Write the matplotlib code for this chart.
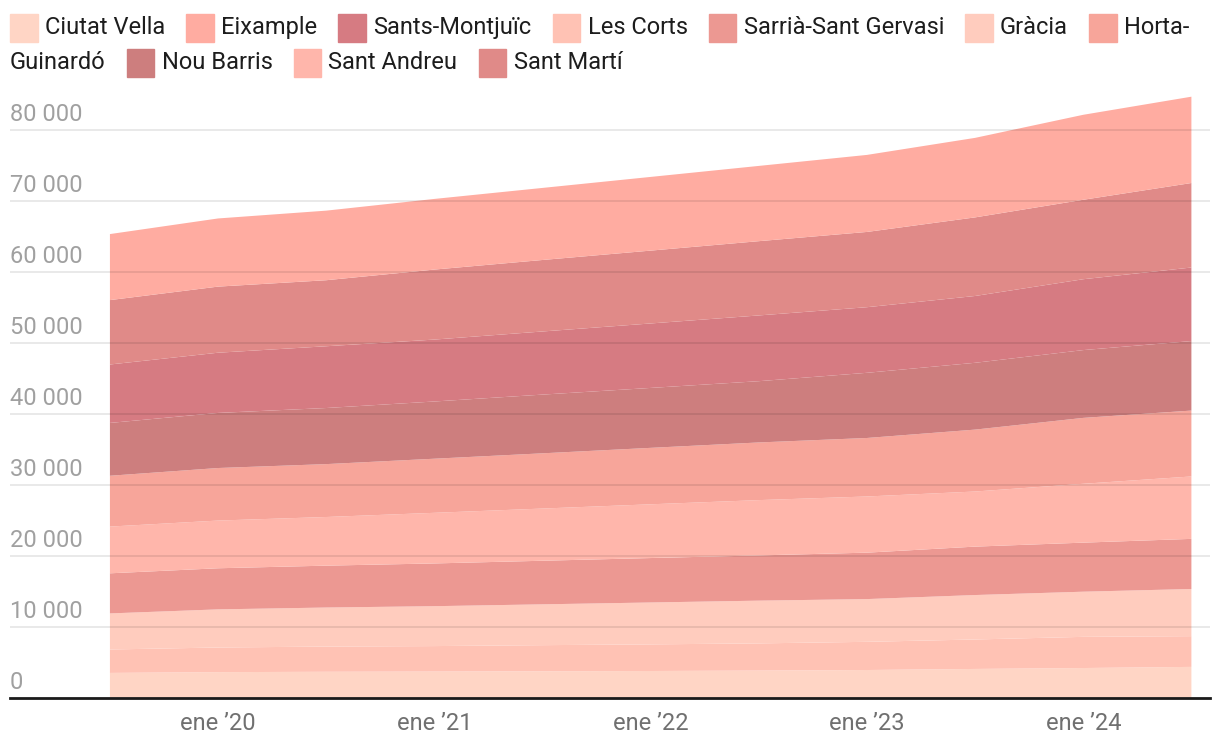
import matplotlib
matplotlib.use("Agg")
import matplotlib.pyplot as plt
import matplotlib.transforms as mtransforms
from matplotlib.patches import Rectangle

plt.rcParams["font.family"] = ["Roboto", "DejaVu Sans"]

# semiannual observations
periods = ["2019-07", "2020-01", "2020-07", "2021-01", "2021-07", "2022-01",
           "2022-07", "2023-01", "2023-07", "2024-01", "2024-07"]

# district values
ciutat_vella = [3490, 3600, 3650, 3680, 3720, 3760, 3820, 3900, 4050, 4180, 4340]
les_corts = [3300, 3470, 3550, 3590, 3680, 3750, 3830, 3970, 4150, 4390, 4330]
gracia = [5080, 5370, 5500, 5620, 5750, 5900, 6020, 6020, 6260, 6360, 6640]
sarria = [5650, 5790, 5900, 6020, 6140, 6260, 6370, 6540, 6820, 6910, 7060]
sant_andreu = [6580, 6720, 6850, 7130, 7350, 7570, 7790, 7910, 7760, 8290, 8790]
horta = [7160, 7400, 7450, 7620, 7780, 7950, 8120, 8240, 8720, 9280, 9280]
nou_barris = [7440, 7760, 7900, 8060, 8270, 8440, 8630, 9180, 9410, 9550, 9790]
sants = [8230, 8480, 8700, 8720, 8890, 9080, 9260, 9240, 9410, 9980, 10360]
sant_marti = [9070, 9310, 9300, 9860, 10070, 10260, 10460, 10600, 11070, 11190, 11900]
eixample = [9300, 9600, 9800, 9950, 10150, 10380, 10600, 10850, 11200, 11970, 12160]

colors = {
    "Ciutat Vella": "#FFD5C5",
    "Eixample": "#FFACA1",
    "Sants-Montjuïc": "#D67B82",
    "Les Corts": "#FFC2B4",
    "Sarrià-Sant Gervasi": "#EC9892",
    "Gràcia": "#FFCCBE",
    "Horta-Guinardó": "#F7A59A",
    "Nou Barris": "#CD7E7E",
    "Sant Andreu": "#FFB6AB",
    "Sant Martí": "#E08A88",
}

# bottom to top
stack = [
    ("Ciutat Vella", ciutat_vella),
    ("Les Corts", les_corts),
    ("Gràcia", gracia),
    ("Sarrià-Sant Gervasi", sarria),
    ("Sant Andreu", sant_andreu),
    ("Horta-Guinardó", horta),
    ("Nou Barris", nou_barris),
    ("Sants-Montjuïc", sants),
    ("Sant Martí", sant_marti),
    ("Eixample", eixample),
]

yticks = [0, 10000, 20000, 30000, 40000, 50000, 60000, 70000, 80000]
ytick_labels = ["0", "10 000", "20 000", "30 000", "40 000", "50 000",
                "60 000", "70 000", "80 000"]
xticks = [2020, 2021, 2022, 2023, 2024]
xtick_labels = ["ene \u201920", "ene \u201921", "ene \u201922", "ene \u201923", "ene \u201924"]

x = [int(p[:4]) + (int(p[5:]) - 1) / 12 for p in periods]

W, H = 1220, 750
fig = plt.figure(figsize=(W / 100, H / 100), dpi=100)
ax = fig.add_axes([10 / W, (H - 697.7) / H, 1200 / W, 603.5 / H])

ax.stackplot(x, [s[1] for s in stack], colors=[colors[s[0]] for s in stack],
             linewidth=0, zorder=2)

ax.set_xlim(2019.038, 2024.586)
ax.set_ylim(0, 85000)

for v in yticks[1:]:
    ax.axhline(v, color="black", alpha=0.09, lw=1.4, zorder=3)
ax.axhline(0, color="#1a1a1a", lw=2, zorder=4, clip_on=False)

ylab_tr = mtransforms.offset_copy(
    mtransforms.blended_transform_factory(ax.transAxes, ax.transData),
    fig=fig, x=0, y=9, units="dots")
for v, lab in zip(yticks, ytick_labels):
    ax.text(0, v, lab, transform=ylab_tr, ha="left", va="baseline",
            fontsize=17, color="#a0a0a0")

ax.set_xticks(xticks)
ax.set_xticklabels(xtick_labels, fontsize=17, color="#707070")
ax.tick_params(axis="x", length=0, pad=10)
ax.set_yticks([])
for sp in ax.spines.values():
    sp.set_visible(False)

# legend, laid out by hand (wraps like the original)
rows = [
    [("Ciutat Vella", "Ciutat Vella"), ("Eixample", "Eixample"),
     ("Sants-Montjuïc", "Sants-Montjuïc"), ("Les Corts", "Les Corts"),
     ("Sarrià-Sant Gervasi", "Sarrià-Sant Gervasi"), ("Gràcia", "Gràcia"),
     ("Horta-Guinardó", "Horta-")],
    [(None, "Guinardó"), ("Nou Barris", "Nou Barris"),
     ("Sant Andreu", "Sant Andreu"), ("Sant Martí", "Sant Martí")],
]
row_base = [34.0, 69.0]
sq = 27.7
renderer = fig.canvas.get_renderer()
for r, items in enumerate(rows):
    cx = 10
    for key, label in items:
        if key is not None:
            top = row_base[r] - 20
            fig.patches.append(Rectangle((cx / W, 1 - (top + sq) / H), sq / W, sq / H,
                                         transform=fig.transFigure,
                                         color=colors[key], zorder=5))
            cx += 35
        t = fig.text(cx / W, 1 - row_base[r] / H, label, fontsize=17,
                     color="#1d1d1d", ha="left", va="baseline")
        cx += t.get_window_extent(renderer).width + 21

fig.savefig("out.png", dpi=100)
